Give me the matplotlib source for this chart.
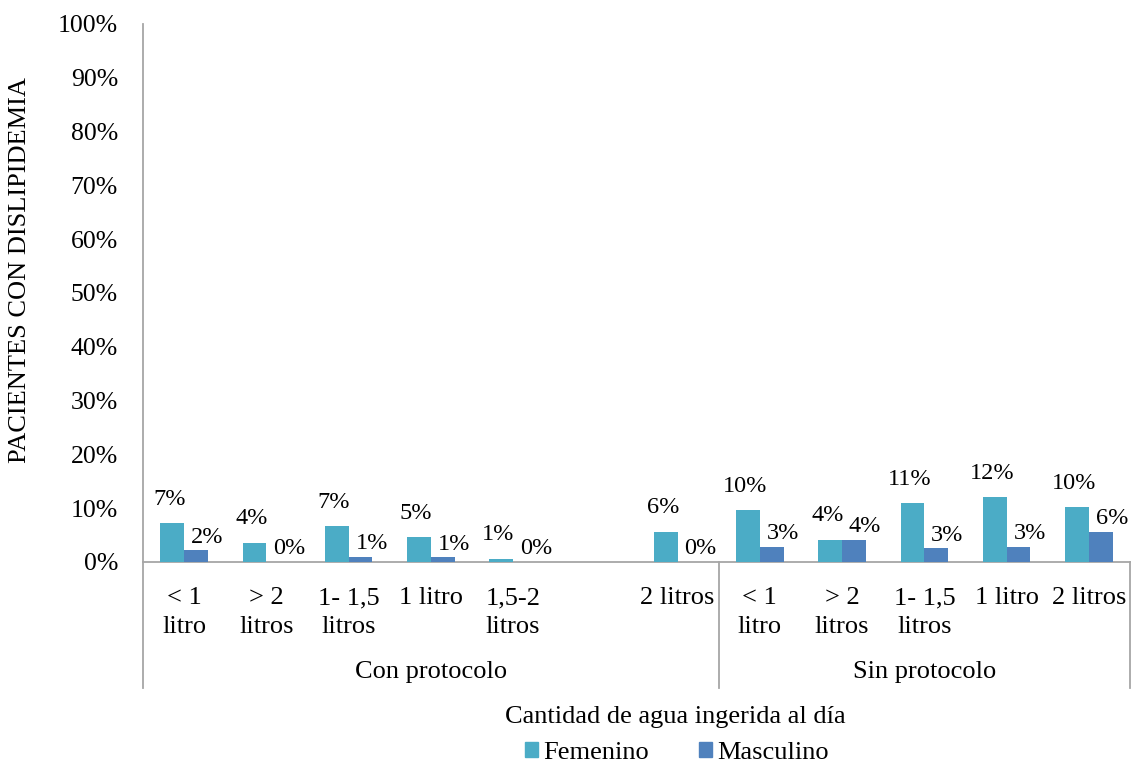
import numpy as np
import matplotlib
matplotlib.use("Agg")
import matplotlib.pyplot as plt
from matplotlib.lines import Line2D
from matplotlib.patches import Patch

plt.rcParams['font.family'] = ['Liberation Serif', 'DejaVu Serif']

# Water intake categories, grouped by protocol
categorias = ["< 1\nlitro", "> 2\nlitros", "1- 1,5\nlitros", "1 litro", "1,5-2\nlitros", "",
              "2 litros",
              "< 1\nlitro", "> 2\nlitros", "1- 1,5\nlitros", "1 litro", "2 litros"]
grupos = ["Con protocolo", "Sin protocolo"]
grupo_tamano = [7, 5]

# Percentage of patients with dyslipidemia
femenino = [7.2, 3.6, 6.6, 4.6, 0.6, np.nan, 5.6, 9.6, 4.1, 10.9, 12.0, 10.2]
masculino = [2.2, 0.0, 1.0, 0.9, 0.0, np.nan, 0.0, 2.8, 4.1, 2.6, 2.8, 5.6]

col_fem = "#4BACC6"
col_mas = "#4F81BD"
gris = "#A6A6A6"
fs = 19
fs_tick = 18.5
fs_val = 17.5

fig = plt.figure(figsize=(11.32, 7.64), dpi=100)
ax = fig.add_axes([143 / 1132, 1 - 562 / 764, (1130 - 143) / 1132, (562 - 24) / 764])

x = np.arange(len(categorias))
w = 0.29
ax.bar(x - w / 2, femenino, w, color=col_fem, zorder=3)
ax.bar(x + w / 2, masculino, w, color=col_mas, zorder=3)

def etiqueta(v):
    return f"{int(np.floor(v + 0.5))}%"

for xi, v in zip(x, femenino):
    if np.isnan(v):
        continue
    ax.annotate(etiqueta(v), (xi - w / 2, v), xytext=(-3, 24), textcoords="offset pixels",
                ha="center", va="center", fontsize=fs_val, color="black")
for xi, v in zip(x, masculino):
    if np.isnan(v):
        continue
    ax.annotate(etiqueta(v), (xi + w / 2, v), xytext=(11, 13), textcoords="offset pixels",
                ha="center", va="center", fontsize=fs_val, color="black")

ax.set_xlim(-0.5, len(categorias) - 0.5)
ax.set_ylim(0, 100)
ax.set_yticks(np.arange(0, 101, 10))
ax.set_yticklabels([f"{t}%" for t in range(0, 101, 10)], fontsize=fs_tick)
ax.tick_params(axis="y", length=0, pad=18)
ax.set_xticks([])
for s in ["top", "right"]:
    ax.spines[s].set_visible(False)
ax.spines["left"].set_color(gris)
ax.spines["left"].set_linewidth(1.3)
ax.spines["bottom"].set_color(gris)
ax.spines["bottom"].set_linewidth(1.3)

# Category labels and group dividers below the axis
trans = ax.get_xaxis_transform()
for xi, lab in zip(x, categorias):
    ax.annotate(lab, (xi, 0), xycoords=trans, xytext=(0, -25), textcoords="offset pixels",
                ha="center", va="top", fontsize=fs, linespacing=1.4)

inicio = -0.5
for g, n in zip(grupos, grupo_tamano):
    fin = inicio + n
    ax.annotate(g, ((inicio + fin) / 2, 0), xycoords=trans, xytext=(0, -110),
                textcoords="offset pixels", ha="center", va="center", fontsize=fs)
    inicio = fin

limites = [-0.5] + list(np.cumsum(grupo_tamano) - 0.5)
for b in limites:
    ax.add_line(Line2D([b, b], [0, -126 / (562 - 24)], transform=trans, color=gris,
                       lw=1.3, clip_on=False))

fig.text(675 / 1132, 1 - 717 / 764, "Cantidad de agua ingerida al día", ha="center",
         va="center", fontsize=fs)
fig.text(20 / 1132, 1 - 270 / 764, "PACIENTES CON DISLIPIDEMIA", rotation=90,
         ha="center", va="center", fontsize=fs)

handles = [Patch(color=col_fem, label="Femenino"), Patch(color=col_mas, label="Masculino")]
fig.legend(handles=handles, loc="center", bbox_to_anchor=(677 / 1132, 1 - 753 / 764), ncol=2,
           frameon=False, fontsize=fs, handlelength=0.5, handleheight=0.5,
           handletextpad=0.2, columnspacing=1.9)

fig.savefig("out.png", dpi=100)
